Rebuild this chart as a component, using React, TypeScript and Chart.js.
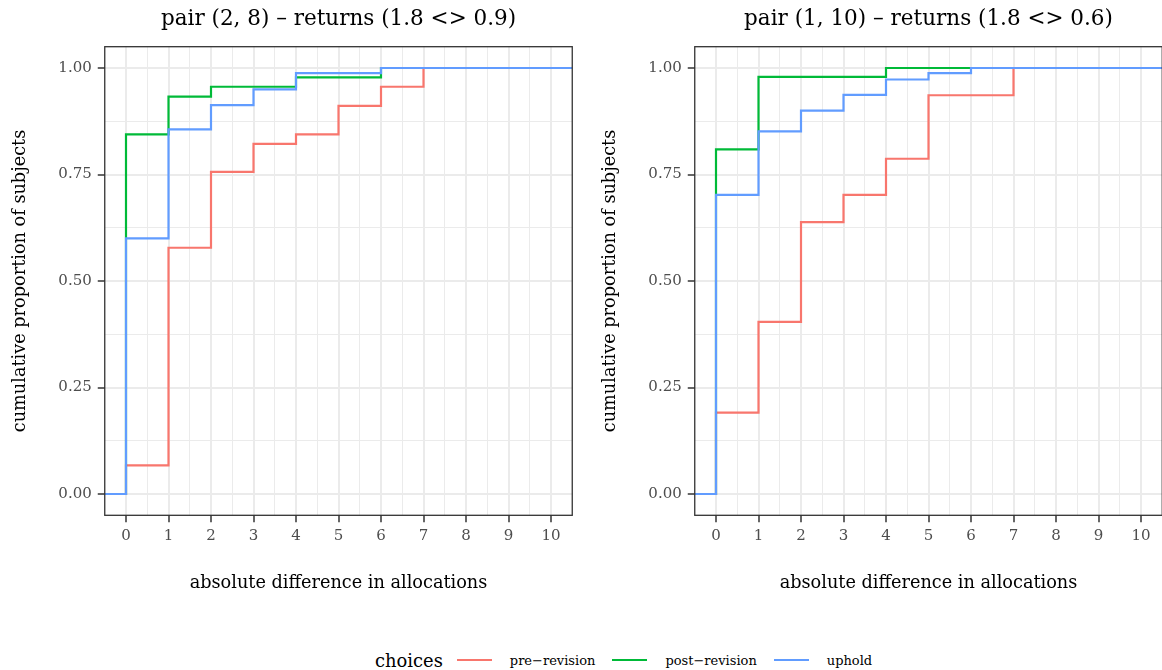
import React, { useEffect, useRef } from "react";
import { Chart, registerables } from "chart.js";

Chart.register(...registerables);

// ---------- data ----------
const allocations = [0, 1, 2, 3, 4, 5, 6, 7, 8, 9, 10];
const xMin = -0.5;
const xMax = 10.5;
const xMajorTicks = [0, 1, 2, 3, 4, 5, 6, 7, 8, 9, 10];
const xMinorTicks = [0.5, 1.5, 2.5, 3.5, 4.5, 5.5, 6.5, 7.5, 8.5, 9.5];
const yMajorTicks = [0, 0.25, 0.5, 0.75, 1];
const yMinorTicks = [0.125, 0.375, 0.625, 0.875];

const leftTitle = "pair (2, 8) – returns (1.8 <> 0.9)";
const leftPre = [0.067, 0.578, 0.756, 0.822, 0.844, 0.911, 0.956, 1, 1, 1, 1];
const leftPost = [0.844, 0.933, 0.956, 0.956, 0.978, 0.978, 1, 1, 1, 1, 1];
const leftUphold = [0.6, 0.856, 0.913, 0.95, 0.988, 0.988, 1, 1, 1, 1, 1];

const rightTitle = "pair (1, 10) – returns (1.8 <> 0.6)";
const rightPre = [0.191, 0.404, 0.638, 0.702, 0.787, 0.936, 0.936, 1, 1, 1, 1];
const rightPost = [0.809, 0.979, 0.979, 0.979, 1, 1, 1, 1, 1, 1, 1];
const rightUphold = [0.702, 0.851, 0.9, 0.937, 0.973, 0.988, 1, 1, 1, 1, 1];

const seriesNames = ["pre−revision", "post−revision", "uphold"];
const seriesColors = ["#F8766D", "#00BA38", "#619CFF"];
const legendTitle = "choices";
const xTitle = "absolute difference in allocations";
const yTitle = "cumulative proportion of subjects";

// ---------- styling ----------
const FONT = "'DejaVu Serif', serif";
const CANVAS_W = 590;
const CANVAS_H = 620;
const AREA_LEFT = 104.75;
const AREA_RIGHT = 572.25;
const AREA_TOP = 46.7;
const AREA_BOTTOM = 515.3;

function toPoints(values: number[]) {
  const pts = [{ x: xMin, y: 0 }];
  allocations.forEach((a, i) => pts.push({ x: a, y: values[i] }));
  pts.push({ x: xMax, y: values[values.length - 1] });
  return pts;
}

const isMajorX = (v: number) => Math.abs(v - Math.round(v)) < 1e-9;
const isMajorY = (v: number) => Math.abs(v * 4 - Math.round(v * 4)) < 1e-9;

const panelBorder = {
  id: "panelBorder",
  afterDraw(chart: any) {
    const { ctx, chartArea } = chart;
    ctx.save();
    ctx.strokeStyle = "#333333";
    ctx.lineWidth = 1.3;
    ctx.strokeRect(
      chartArea.left,
      chartArea.top,
      chartArea.right - chartArea.left,
      chartArea.bottom - chartArea.top
    );
    ctx.restore();
  },
};

function Panel(props: {
  title: string;
  pre: number[];
  post: number[];
  uphold: number[];
  left: number;
}) {
  const ref = useRef<HTMLCanvasElement>(null);
  useEffect(() => {
    if (!ref.current) return;
    const titleSize = 21.5;
    const titlePadTop = 7;
    const titlePadBottom = AREA_TOP - titlePadTop - titleSize * 1.2;
    const axisTitleSize = 17.7;
    const tickFont = { family: FONT, size: 15 };
    const mk = (values: number[], idx: number, order: number) => ({
      label: seriesNames[idx],
      data: toPoints(values),
      borderColor: seriesColors[idx],
      backgroundColor: seriesColors[idx],
      borderWidth: 2.2,
      stepped: "before" as const,
      pointRadius: 0,
      fill: false,
      order,
    });
    const chart = new Chart(ref.current, {
      type: "line",
      data: {
        datasets: [
          mk(props.uphold, 2, 0),
          mk(props.post, 1, 1),
          mk(props.pre, 0, 2),
        ],
      },
      options: {
        responsive: false,
        animation: false,
        layout: {
          padding: { left: 0, right: CANVAS_W - AREA_RIGHT, top: 0, bottom: 0 },
        },
        plugins: {
          legend: { display: false },
          tooltip: { enabled: false },
          title: {
            display: true,
            fullSize: false,
            text: props.title,
            color: "#000000",
            font: { family: FONT, size: titleSize, weight: "normal" },
            padding: { top: titlePadTop, bottom: titlePadBottom },
          },
        },
        scales: {
          x: {
            type: "linear",
            min: xMin,
            max: xMax,
            afterBuildTicks: (s: any) => {
              s.ticks = [...xMajorTicks, ...xMinorTicks]
                .sort((a, b) => a - b)
                .map((v) => ({ value: v }));
            },
            afterFit: (s: any) => {
              s.height = CANVAS_H - AREA_BOTTOM;
            },
            border: { display: false },
            grid: {
              color: "#EBEBEB",
              lineWidth: (c: any) => (isMajorX(c.tick.value) ? 2 : 1),
              tickLength: 7,
              tickWidth: 1.5,
              tickColor: (c: any) =>
                isMajorX(c.tick.value) ? "#333333" : "rgba(0,0,0,0)",
            },
            ticks: {
              autoSkip: false,
              maxRotation: 0,
              padding: 5,
              color: "#4D4D4D",
              font: tickFont,
              callback: (v: any) => (isMajorX(Number(v)) ? String(v) : ""),
            },
            title: {
              display: true,
              text: xTitle,
              color: "#000000",
              font: { family: FONT, size: axisTitleSize },
              padding: { top: 0, bottom: 37 - (axisTitleSize * 1.2) / 2 },
            },
          },
          y: {
            type: "linear",
            min: -0.05,
            max: 1.05,
            afterBuildTicks: (s: any) => {
              s.ticks = [...yMajorTicks, ...yMinorTicks]
                .sort((a, b) => a - b)
                .map((v) => ({ value: v }));
            },
            afterFit: (s: any) => {
              s.width = AREA_LEFT;
            },
            border: { display: false },
            grid: {
              color: "#EBEBEB",
              lineWidth: (c: any) => (isMajorY(c.tick.value) ? 2 : 1),
              tickLength: 7,
              tickWidth: 1.5,
              tickColor: (c: any) =>
                isMajorY(c.tick.value) ? "#333333" : "rgba(0,0,0,0)",
            },
            ticks: {
              autoSkip: false,
              padding: 6,
              color: "#4D4D4D",
              font: tickFont,
              callback: (v: any) =>
                isMajorY(Number(v)) ? Number(v).toFixed(2) : "",
            },
            title: {
              display: true,
              text: yTitle,
              color: "#000000",
              font: { family: FONT, size: axisTitleSize },
              padding: { top: 20 - (axisTitleSize * 1.2) / 2, bottom: 0 },
            },
          },
        },
      },
      plugins: [panelBorder],
    });
    return () => chart.destroy();
  }, []);
  return (
    <canvas
      ref={ref}
      width={CANVAS_W}
      height={CANVAS_H}
      style={{
        position: "absolute",
        left: props.left,
        top: 0,
        width: CANVAS_W,
        height: CANVAS_H,
      }}
    />
  );
}

function Legend() {
  return (
    <div
      style={{
        position: "absolute",
        left: 375,
        top: 648,
        height: 24,
        display: "flex",
        alignItems: "center",
        fontFamily: FONT,
        whiteSpace: "nowrap",
      }}
    >
      <span style={{ fontSize: 17.9, color: "#000", marginRight: 14 }}>
        {legendTitle}
      </span>
      {seriesNames.map((n, i) => (
        <span
          key={n}
          style={{ display: "flex", alignItems: "center", marginRight: 17 }}
        >
          <span
            style={{
              display: "inline-block",
              width: 35,
              height: 2,
              background: seriesColors[i],
              marginRight: 18,
            }}
          />
          <span style={{ fontSize: 13, color: "#000" }}>{n}</span>
        </span>
      ))}
    </div>
  );
}

export default function App() {
  return (
    <div
      style={{
        position: "absolute",
        left: 0,
        top: 0,
        width: 1162,
        height: 670,
        overflow: "hidden",
        background: "#ffffff",
      }}
    >
      <Panel
        title={leftTitle}
        pre={leftPre}
        post={leftPost}
        uphold={leftUphold}
        left={0}
      />
      <Panel
        title={rightTitle}
        pre={rightPre}
        post={rightPost}
        uphold={rightUphold}
        left={590}
      />
      <Legend />
    </div>
  );
}
